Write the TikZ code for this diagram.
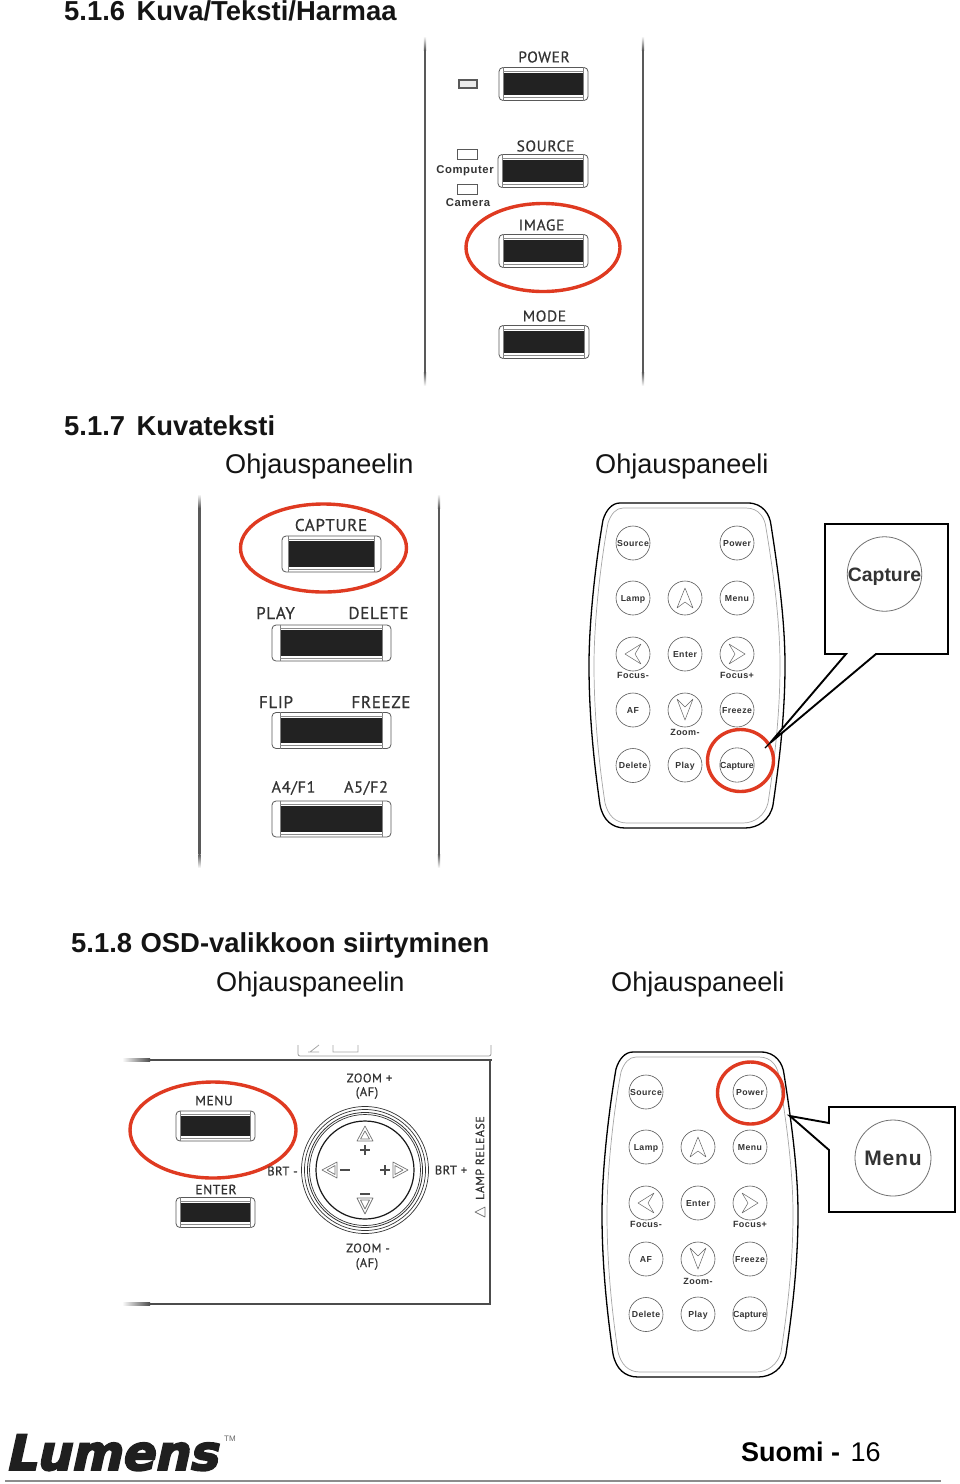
\documentclass[tikz,border=0pt]{standalone}
\usepackage{fontspec}
\setmainfont{Liberation Sans}
\newfontfamily\panelfont[LetterSpace=4,FakeBold=0.6]{PT Sans}
\newfontfamily\remotefont[LetterSpace=5]{Liberation Sans}
\newfontfamily\logofont[FakeBold=4,FakeSlant=0.22]{DejaVu Sans}
\definecolor{redring}{HTML}{DF3A21}
\definecolor{btnblack}{HTML}{222222}
\definecolor{inkgray}{HTML}{333333}
\usetikzlibrary{calc}
\tikzset{
  heading/.style={anchor=base west,inner sep=0,font=\fontsize{27.4}{28}\selectfont\bfseries,text=black!92},
  subhead/.style={anchor=base west,inner sep=0,font=\fontsize{27.1}{27}\selectfont,text=black!92},
  panellabel/.style={inner sep=0,font=\fontsize{15.5}{16}\selectfont\panelfont,text=inkgray},
  widelabel/.style={inner sep=0,font=\fontsize{17}{17}\selectfont\panelfont,text=inkgray},
  smalllabel/.style={inner sep=0,font=\fontsize{12.6}{13}\selectfont\panelfont,text=inkgray},
  ledlabel/.style={inner sep=0,font=\fontsize{11.3}{12}\selectfont\remotefont\bfseries,text=inkgray},
  ring/.style={draw=redring,line width=3.4pt,fill=none},
  btnouter/.style={draw=black!65,fill=white,line width=.8pt,rounded corners=4pt,inner sep=0,rectangle},
  btnface/.style={fill=btnblack,draw=none,inner sep=0,rectangle},
  led/.style={draw=black!65,line width=1pt,fill=white,inner sep=0,minimum width=20pt,minimum height=10pt,rectangle},
  rbtn/.style={circle,draw=black!65,line width=.6pt,fill=white,minimum size=34pt,inner sep=0,text height=6.5pt,text depth=0pt,font=\fontsize{8.7}{10}\selectfont\remotefont\bfseries,text=inkgray},
  rlabel/.style={inner sep=0,font=\fontsize{9}{10}\selectfont\remotefont\bfseries,text=inkgray},
  rarrow/.style={draw=black!60,line width=.5pt,line join=round},
  bodyline/.style={draw=black,line width=1.3pt},
  calloutline/.style={draw=black,line width=1.9pt,fill=white,line join=miter},
  dial/.style={circle,draw=black!80,inner sep=0,fill=none},
  hollow/.style={draw=black!55,line width=.7pt,fill=none,line join=round}
}
\newcommand{\panelbtn}[6]{% name cx cy w h facew
  \node[btnouter,minimum width=#4pt,minimum height=#5pt] (#1) at (#2,#3) {};
  \node[btnface,minimum width=#6pt,minimum height=#5pt-10.5pt] (#1face) at (#2,#3) {};
  \draw[black!50,line width=.6pt] (#1face.west |- #1.north) -- (#1face.west |- #1.south)
       (#1face.east |- #1.north) -- (#1face.east |- #1.south);
  \draw[black!45,line width=.5pt] ($(#1face.south west)+(0,1.8)$) -- ($(#1face.south east)+(0,1.8)$)
       ($(#1face.north west)+(0,-1.8)$) -- ($(#1face.north east)+(0,-1.8)$);
}
\newcommand{\sideline}[3]{% x top bottom
  \shade[top color=white,bottom color=black!65] (#1-1.2,#2) rectangle (#1+1.2,#2+14);
  \fill[black!65] (#1-1.2,#2+14) rectangle (#1+1.2,#3-14);
  \shade[top color=black!65,bottom color=white] (#1-1.2,#3-14) rectangle (#1+1.2,#3);
}
\newcommand{\remotepad}[1]{%
  \draw[bodyline,fill=white] (620,503) -- (748,503) .. controls (763,503) and (770,515) .. (771,525)
    .. controls (778,570) and (785,620) .. (785,665) .. controls (785,720) and (778,770) .. (773,805)
    .. controls (770,820) and (758,828) .. (745,828) -- (625,828)
    .. controls (612,828) and (603,820) .. (600,805) .. controls (595,770) and (589,720) .. (589,665)
    .. controls (589,620) and (596,560) .. (603,520) .. controls (606,510) and (612,503) .. (620,503) -- cycle;
  \draw[black!35,line width=.7pt] (623,508) -- (746,508) .. controls (759,508) and (765,518) .. (766,528)
    .. controls (773,570) and (780,620) .. (780,665) .. controls (780,720) and (773,770) .. (768,803)
    .. controls (765,815) and (755,823) .. (743,823) -- (627,823)
    .. controls (615,823) and (608,815) .. (605,803) .. controls (600,770) and (594,720) .. (594,665)
    .. controls (594,620) and (601,560) .. (608,523) .. controls (611,514) and (616,508) .. (623,508) -- cycle;
  \node[rbtn] (#1source) at (633,543) {Source};
  \node[rbtn] (#1power) at (737,543) {Power};
  \node[rbtn] (#1lamp) at (633,598) {Lamp};
  \node[rbtn] (#1up) at (685,598) {};
  \node[rbtn] (#1menu) at (737,598) {Menu};
  \node[rbtn] (#1left) at (633,654) {};
  \node[rbtn] (#1enter) at (685,654) {Enter};
  \node[rbtn] (#1right) at (737,654) {};
  \node[rbtn] (#1af) at (633,710) {AF};
  \node[rbtn] (#1down) at (685,710) {};
  \node[rbtn] (#1freeze) at (737,710) {Freeze};
  \node[rbtn] (#1delete) at (633,765.5) {Delete};
  \node[rbtn] (#1play) at (685,765) {Play};
  \node[rbtn] (#1capture) at (737,765) {\fontsize{8.8}{10}\selectfont\addfontfeatures{LetterSpace=1}Capture};
  \node[rlabel] (#1focm) at (633,675) {Focus-};
  \node[rlabel] (#1focp) at (737,675) {Focus+};
  \node[rlabel] (#1zoomm) at (685,732) {Zoom-};
  \draw[rarrow] (685,588) -- (677,608) -- (685,602) -- (693,608) -- cycle;
  \draw[rarrow] (625,654) -- (641,644) -- (635,654) -- (641,664) -- cycle;
  \draw[rarrow] (745,654) -- (729,644) -- (735,654) -- (729,664) -- cycle;
  \draw[rarrow] (677,699) -- (685,707) -- (693,699) -- (685,720) -- cycle;
}
\begin{document}
\begin{tikzpicture}[x=1pt,y=-1pt]
\useasboundingbox (0,0) rectangle (960,1484);
% headings
\node[heading] (h1) at (64,20.5) {5.1.6\hspace{11.5pt}Kuva/Teksti/Harmaa};
\node[heading] (h2) at (64,435.5) {5.1.7\hspace{11.5pt}Kuvateksti};
\node[subhead] (s2a) at (225,473) {Ohjauspaneelin};
\node[subhead] (s2b) at (595,473) {Ohjauspaneeli};
\node[heading] (h3) at (71,952.5) {5.1.8\hspace{8.5pt}OSD-valikkoon siirtyminen};
\node[subhead] (s3a) at (216,991) {Ohjauspaneelin};
\node[subhead] (s3b) at (611,991) {Ohjauspaneeli};
% panel 1
\sideline{425}{36}{386}
\sideline{643}{36}{386}
\panelbtn{power}{543.5}{84}{89}{33}{80}
\panelbtn{source}{543}{171}{90}{33}{81}
\panelbtn{image}{543.5}{251}{89}{33}{80}
\panelbtn{mode}{544}{342}{90}{33}{81}
\node[panellabel] (lpower) at (544,57) {POWER};
\node[panellabel] (lsource) at (545.5,146) {SOURCE};
\node[panellabel] (limage) at (541.5,225) {IMAGE};
\node[panellabel] (lmode) at (544.5,316) {MODE};
\node[led,line width=2pt,fill=black!8,minimum width=18pt,minimum height=8pt] (ledp) at (467.5,84) {};
\node[led] (ledc) at (467.5,154) {};
\node[led] (ledk) at (467.5,189) {};
\node[ledlabel] (lcomp) at (465,171) {Computer};
\node[ledlabel] (lcam) at (468,203) {Camera};
\draw[ring] (543,247.5) ellipse [x radius=77,y radius=44];
% panel 2
\sideline{199.5}{494}{868}
\sideline{439}{494}{868}
\panelbtn{capture}{331.5}{554}{99}{36}{86}
\panelbtn{play}{331.5}{643}{119}{36}{102}
\panelbtn{flip}{331.5}{730.5}{119}{36}{102}
\panelbtn{afour}{331.5}{819}{119}{36}{102}
\node[widelabel] (lcapture) at (331,525) {CAPTURE};
\node[widelabel] (lplay) at (275.5,613) {PLAY};
\node[widelabel] (ldelete) at (378.5,613) {DELETE};
\node[widelabel] (lflip) at (276,702) {FLIP};
\node[widelabel] (lfreeze) at (381,702) {FREEZE};
\node[widelabel,font=\fontsize{16.2}{17}\selectfont\panelfont] (la4) at (293.5,788) {A4/F1};
\node[widelabel,font=\fontsize{16.2}{17}\selectfont\panelfont] (la5) at (366,788) {A5/F2};
\draw[ring] (323.5,548) ellipse [x radius=83,y radius=44];
% remote 1 and callout
\remotepad{a}
\draw[ring] (740.5,760.5) ellipse [x radius=33,y radius=31];
\coordinate (ca1) at (825,524); \coordinate (ca2) at (948,524);
\coordinate (ca3) at (948,654); \coordinate (ca4) at (876,654);
\coordinate (catip) at (770,743); \coordinate (ca5) at (846,654);
\coordinate (ca6) at (825,654); \coordinate (castub) at (765,748);
\draw[calloutline] (ca1) -- (ca2) -- (ca3) -- (ca4) -- (catip) -- (ca5) -- (ca6) -- cycle;
\draw[black,line width=1.2pt] (catip) -- (castub);
\node[circle,draw=black!55,line width=.8pt,minimum size=73pt,inner sep=0,text height=14pt,text depth=0pt,font=\fontsize{19.4}{20}\selectfont\bfseries,text=inkgray] (cabtn) at (884.5,574) {Capture};
% panel 3
\draw[black!40,line width=.8pt,rounded corners=2pt] (298,1045) -- (298,1056) -- (491,1056) -- (491,1045);
\draw[black!35,line width=.8pt] (308,1052) -- (319,1052) (310,1052) -- (319,1045) (333,1045) -- (333,1052) -- (358,1052) -- (358,1045);
\shade[left color=white,right color=black!70] (122,1058.8) rectangle (150,1061.4);
\fill[black!70] (150,1058.8) rectangle (491.5,1061.4);
\fill[black!70] (488.8,1058.8) rectangle (491.4,1305.4);
\shade[left color=white,right color=black!70] (122,1302.8) rectangle (150,1305.4);
\fill[black!70] (150,1302.8) rectangle (491.4,1305.4);
\panelbtn{menu}{215.5}{1126}{79}{30}{70}
\panelbtn{enter}{215.5}{1212.5}{79}{30}{70}
\node[smalllabel,font=\fontsize{13.5}{14}\selectfont\panelfont] (lmenu) at (214,1100.5) {MENU};
\node[smalllabel,font=\fontsize{13.5}{14}\selectfont\panelfont] (lenter) at (216,1189.5) {ENTER};
\draw[ring] (213,1130) ellipse [x radius=83,y radius=48];
\node[dial,minimum size=127pt,line width=.7pt] (d1) at (365,1170) {};
\node[dial,minimum size=121pt,line width=.7pt] (d2) at (365,1170) {};
\node[dial,minimum size=115pt,line width=.8pt] (d3) at (365,1170) {};
\node[dial,minimum size=111pt,line width=.7pt] (d4) at (365,1170) {};
\node[dial,minimum size=98pt,line width=1.2pt,draw=black!90] (d5) at (365,1170) {};
\draw[hollow] (365,1126) -- (357,1141) -- (373,1141) -- cycle (365,1131) -- (360.5,1139) -- (369.5,1139) -- cycle;
\draw[hollow] (365,1214) -- (357,1198) -- (373,1198) -- cycle (365,1209) -- (360.5,1200) -- (369.5,1200) -- cycle;
\draw[hollow] (322,1170) -- (337,1162) -- (337,1178) -- cycle (327,1170) -- (335,1165.5) -- (335,1174.5) -- cycle;
\draw[hollow] (408,1170) -- (393,1162) -- (393,1178) -- cycle (403,1170) -- (395,1165.5) -- (395,1174.5) -- cycle;
\draw[black!70,line width=1.2pt] (360,1150) -- (370,1150) (365,1145) -- (365,1155)
  (340,1170) -- (350,1170) (380,1170) -- (390,1170) (385,1165) -- (385,1175) (360,1194) -- (370,1194);
\node[smalllabel] (lzp) at (369.5,1078) {ZOOM +};
\node[smalllabel] (laf1) at (367,1093) {(AF)};
\node[smalllabel] (lbm) at (282.5,1171) {BRT -};
\node[smalllabel] (lbp) at (451,1170) {BRT +};
\node[smalllabel] (lzm) at (368,1248) {ZOOM -};
\node[smalllabel] (laf2) at (367,1264) {(AF)};
\node[smalllabel,font=\fontsize{12}{13}\selectfont\panelfont,rotate=90] (llamp) at (480,1158) {LAMP RELEASE};
\draw[hollow] (475,1212) -- (485,1207) -- (485,1217) -- cycle;
% remote 2 and callout
\begin{scope}[shift={(13,549)}]
\remotepad{b}
\end{scope}
\draw[ring] (750.5,1093) ellipse [x radius=33,y radius=31];
\coordinate (cb1) at (829,1107); \coordinate (cb2) at (955,1107);
\coordinate (cb3) at (955,1212); \coordinate (cb4) at (829,1212);
\coordinate (cb5) at (829,1150); \coordinate (cbtip) at (790,1116);
\coordinate (cb6) at (829,1123);
\draw[calloutline] (cb1) -- (cb2) -- (cb3) -- (cb4) -- (cb5) -- (cbtip) -- (cb6) -- cycle;
\node[circle,draw=black!55,line width=.8pt,minimum size=76pt,inner sep=0,text height=15pt,text depth=0pt,font=\fontsize{21}{21}\selectfont\bfseries\addfontfeatures{LetterSpace=4},text=inkgray] (cbbtn) at (893,1158) {Menu};
% footer
\node[anchor=base west,inner sep=0,font=\fontsize{48.5}{49}\selectfont\logofont\bfseries,text=black!88] (logo) at (5,1470) {Lumens};
\node[inner sep=0,font=\fontsize{8}{8}\selectfont,text=black!60] (tm) at (230,1439) {TM};
\node[anchor=base west,inner sep=0,font=\fontsize{27}{27}\selectfont] (foot) at (741,1461) {\textbf{Suomi - }\hspace{3pt}16};
\fill[black!45] (5,1480) rectangle (941,1482);
\end{tikzpicture}
\end{document}
